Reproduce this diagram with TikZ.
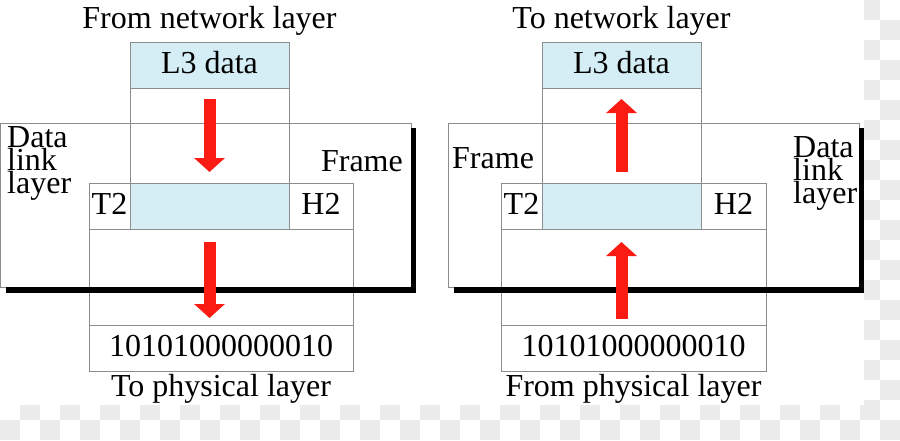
\documentclass[tikz,border=0pt]{standalone}
\usepackage{fontspec}
\setmainfont{Liberation Serif}
\usetikzlibrary{positioning,arrows.meta}
\definecolor{l3blue}{RGB}{213,238,245}
\definecolor{boxgray}{RGB}{140,140,140}
\definecolor{arrowred}{RGB}{250,28,18}
\definecolor{checkgray}{RGB}{236,236,236}
\tikzset{
  cell/.style={draw=boxgray, line width=1pt, fill=white, inner sep=0pt, outer sep=0pt,
    minimum height=46pt, text height=22pt, text depth=6pt},
  l3cell/.style={cell, fill=l3blue},
  layerbox/.style={draw=boxgray, line width=1pt, fill=white, inner sep=0pt, outer sep=0pt,
    minimum width=411pt, minimum height=164pt},
  colline/.style={boxgray, line width=1pt},
  shadowline/.style={black, line width=5.5pt},
  bigarrow/.style={arrowred, line width=12pt, -{Triangle[length=14pt,width=30pt]}},
  txt/.style={inner sep=0pt}
}
\begin{document}
\begin{tikzpicture}[x=1pt, y=-1pt, font=\fontsize{32}{23}\selectfont]
        \useasboundingbox (0,0) rectangle (900,440);
        \foreach \i in {0,...,44}{
            \foreach \j in {0,...,21}{
                \pgfmathtruncatemacro\odd{mod(\i+\j,2)}
                \ifnum\odd=1 \fill[checkgray] (20*\i,20*\j) rectangle ++(20,20); \fi
            }
        }
        \fill[white] (0,0) rectangle (864,405);

        % sending side
        \node[layerbox] (dllL) at (205.5,205) {};
        \node[l3cell, minimum width=159pt] (l3L) at (209.5,65) {L3 data};
        \node[cell, minimum width=41pt] (t2L) at (109.5,206) {T2};
        \node[l3cell, minimum width=159pt, right=0pt of t2L] (midL) {};
        \node[cell, minimum width=64pt, right=0pt of midL] (h2L) {H2};
        \node[cell, minimum width=264pt] (bitsL) at (221,348) {10101000000010};
        \draw[colline] (l3L.south west) -- (midL.north west);
        \draw[colline] (l3L.south east) -- (midL.north east);
        \draw[colline] (t2L.south west) -- (bitsL.north west);
        \draw[colline] (h2L.south east) -- (bitsL.north east);
        \draw[shadowline] ([xshift=6pt,yshift=-3pt]dllL.south west) -- ([xshift=2.5pt,yshift=-3pt]dllL.south east) -- ([xshift=2.5pt,yshift=-5pt]dllL.north east);
        \node[txt, anchor=base] (fromnetL) at ([yshift=14pt]l3L.north) {From network layer};
        \node[txt, anchor=base] (tophysL) at ([yshift=-25pt]bitsL.south) {To physical layer};
        \node[txt, anchor=north west, align=left] (dllnameL) at (7,126) {Data\\link\\layer};
        \node[txt, anchor=base east] (frameL) at (403,171) {Frame};
        \draw[bigarrow, shorten <=11pt, shorten >=11pt] (l3L.south) -- (midL.north);
        \draw[bigarrow, shorten <=13pt, shorten >=7pt] (midL.south) -- (midL.south |- bitsL.north);

        % receiving side
        \node[layerbox] (dllR) at (653.5,205) {};
        \node[l3cell, minimum width=159pt] (l3R) at (621.5,65) {L3 data};
        \node[cell, minimum width=41pt] (t2R) at (521.5,206) {T2};
        \node[l3cell, minimum width=159pt, right=0pt of t2R] (midR) {};
        \node[cell, minimum width=65pt, right=0pt of midR] (h2R) {H2};
        \node[cell, minimum width=265pt] (bitsR) at (633.5,348) {10101000000010};
        \draw[colline] (l3R.south west) -- (midR.north west);
        \draw[colline] (l3R.south east) -- (midR.north east);
        \draw[colline] (t2R.south west) -- (bitsR.north west);
        \draw[colline] (h2R.south east) -- (bitsR.north east);
        \draw[shadowline] ([xshift=6pt,yshift=-3pt]dllR.south west) -- ([xshift=2.5pt,yshift=-3pt]dllR.south east) -- ([xshift=2.5pt,yshift=-5pt]dllR.north east);
        \node[txt, anchor=base] (tonetR) at ([yshift=14pt]l3R.north) {To network layer};
        \node[txt, anchor=base] (fromphysR) at ([yshift=-25pt]bitsR.south) {From physical layer};
        \node[txt, anchor=north west, align=left] (dllnameR) at (793,136) {Data\\link\\layer};
        \node[txt, anchor=base west] (frameR) at (452,168) {Frame};
        \draw[bigarrow, shorten <=11pt, shorten >=11pt] (midR.north) -- (l3R.south);
        \draw[bigarrow, shorten <=6pt, shorten >=13pt] (midR.south |- bitsR.north) -- (midR.south);
\end{tikzpicture}
\end{document}
